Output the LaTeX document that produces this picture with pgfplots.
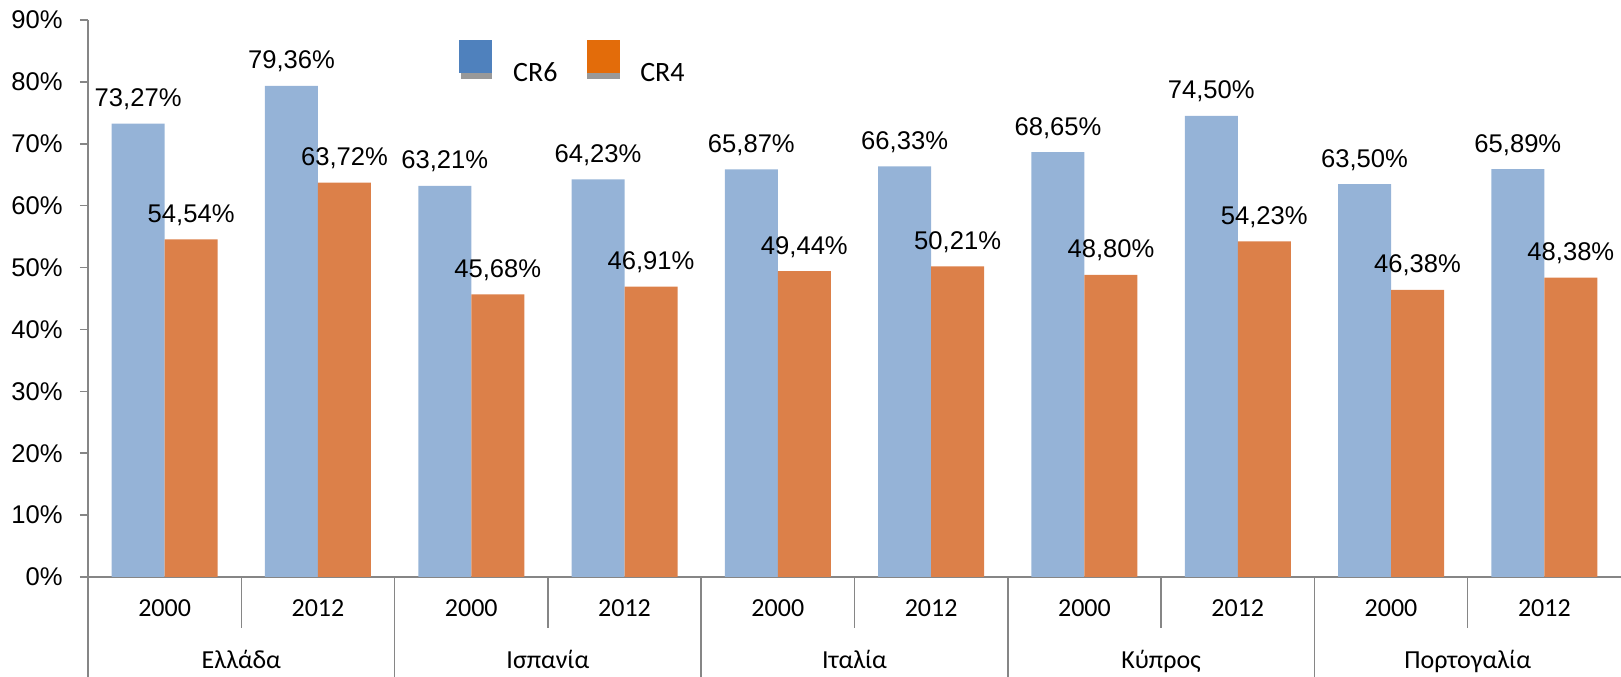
\documentclass[border=0pt]{standalone}
\usepackage{pgfplots}
\pgfplotsset{compat=1.18}
\usepackage{fontspec}
\setmainfont{Liberation Sans}
\newfontfamily\calibri{Carlito}
\definecolor{barblue}{HTML}{95B3D7}
\definecolor{barorange}{HTML}{DC8049}
\definecolor{legblue}{HTML}{4F81BD}
\definecolor{legorange}{HTML}{E36C0A}
\definecolor{axgray}{HTML}{868686}

\begin{document}
\begin{tikzpicture}
\begin{axis}[
    name=ax,
    scale only axis,
    width=766.5pt, height=278.5pt,
    xmin=-0.5, xmax=9.5, ymin=0, ymax=90,
    ytick={0,10,...,90},
    yticklabel={\pgfmathprintnumber{\tick}\%},
    /pgf/number format/assume math mode=true,
    yticklabel style={font=\fontsize{12.8}{14}\selectfont, inner sep=0pt, xshift=-8.5pt},
    xtick={0,...,9},
    xticklabels={2000,2012,2000,2012,2000,2012,2000,2012,2000,2012},
    xticklabel style={font=\fontsize{13}{15}\calibri, anchor=base, yshift=-16pt, inner sep=0pt},
    axis x line*=bottom, axis y line*=left,
    axis line style={draw=axgray, line width=0.75pt},
    x tick style={draw=none},
    y tick style={draw=axgray, line width=0.75pt},
    tick align=outside, major tick length=4pt,
    clip=false,
    bar width=26.5pt,
    nodes near coords={\pgfmathprintnumber[fixed,fixed zerofill,precision=2,use comma]{\pgfplotspointmeta}\%},
    every node near coord/.append style={font=\fontsize{12.8}{14}\selectfont, anchor=base, yshift=8.5pt, inner sep=0pt, text=black},
    legend style={at={(0.242,0.964)}, anchor=north west, draw=none, fill=none,
        legend columns=-1, inner sep=0pt, font=\fontsize{14}{16}\calibri,
        nodes={inner sep=0pt},
        /tikz/every odd column/.append style={column sep=10.5pt},
        /tikz/every even column/.append style={column sep=14.5pt}},
]
\addlegendimage{legend image code/.code={
    \fill[black!40] (1pt,-2.5pt) rectangle (16pt,0.5pt);
    \fill[legblue] (0pt,0.5pt) rectangle (16pt,16.5pt);}}
\addlegendentry{CR6}
\addlegendimage{legend image code/.code={
    \fill[black!40] (0pt,-2.5pt) rectangle (16pt,0.5pt);
    \fill[legorange] (0pt,0.5pt) rectangle (16pt,16.5pt);}}
\addlegendentry{CR4}

% CR6
\addplot[ybar, bar shift=-13.25pt, fill=barblue, draw=none, forget plot,
    every node near coord/.append style={xshift=-13.25pt}] coordinates {
    (0,73.27) (1,79.36) (2,63.21) (3,64.23) (4,65.87)
    (5,66.33) (6,68.65) (7,74.50) (8,63.50) (9,65.89)
};
% CR4
\addplot[ybar, bar shift=13.25pt, fill=barorange, draw=none, forget plot,
    every node near coord/.append style={xshift=13.25pt}] coordinates {
    (0,54.54) (1,63.72) (2,45.68) (3,46.91) (4,49.44)
    (5,50.21) (6,48.80) (7,54.23) (8,46.38) (9,48.38)
};

% category separators
\pgfplotsinvokeforeach{0.5,2.5,4.5,6.5,8.5}{
    \draw[axgray, line width=0.75pt] (axis cs:#1,0) -- ([yshift=-25.5pt]axis cs:#1,0);
}
\pgfplotsinvokeforeach{-0.5,1.5,3.5,5.5,7.5}{
    \draw[axgray, line width=0.75pt] (axis cs:#1,0) -- ([yshift=-55pt]axis cs:#1,0);
}
\node[anchor=base, yshift=-46pt, font=\fontsize{13}{15}\calibri] at (axis cs:0.5,0) {Ελλάδα};
\node[anchor=base, yshift=-46pt, font=\fontsize{13}{15}\calibri] at (axis cs:2.5,0) {Ισπανία};
\node[anchor=base, yshift=-46pt, font=\fontsize{13}{15}\calibri] at (axis cs:4.5,0) {Ιταλία};
\node[anchor=base, yshift=-46pt, font=\fontsize{13}{15}\calibri] at (axis cs:6.5,0) {Κύπρος};
\node[anchor=base, yshift=-46pt, font=\fontsize{13}{15}\calibri] at (axis cs:8.5,0) {Πορτογαλία};
\end{axis}
\pgfresetboundingbox
\path[use as bounding box] ([xshift=-44pt,yshift=-50pt]ax.south west) rectangle ([yshift=10pt]ax.north east);
\end{tikzpicture}
\end{document}
